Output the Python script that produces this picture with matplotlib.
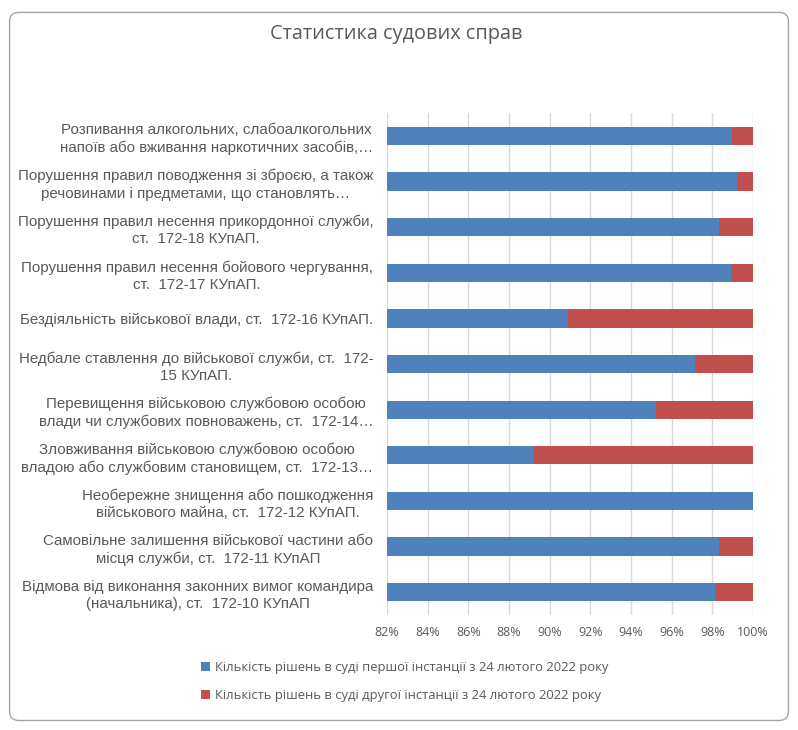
import numpy as np
import matplotlib.pyplot as plt
from matplotlib.patches import FancyBboxPatch
from matplotlib.ticker import FuncFormatter

# categories, top to bottom as shown
categories = [
    "Розпивання алкогольних, слабоалкогольних\nнапоїв або вживання наркотичних засобів,…",
    "Порушення правил поводження зі зброєю, а також\nречовинами і предметами, що становлять…",
    "Порушення правил несення прикордонної служби,\nст.  172-18 КУпАП.",
    "Порушення правил несення бойового чергування,\nст.  172-17 КУпАП.",
    "Бездіяльність військової влади, ст.  172-16 КУпАП.",
    "Недбале ставлення до військової служби, ст.  172-\n15 КУпАП.",
    "Перевищення військовою службовою особою\nвлади чи службових повноважень, ст.  172-14…",
    "Зловживання військовою службовою особою\nвладою або службовим становищем, ст.  172-13…",
    "Необережне знищення або пошкодження\nвійськового майна, ст.  172-12 КУпАП.",
    "Самовільне залишення військової частини або\nмісця служби, ст.  172-11 КУпАП",
    "Відмова від виконання законних вимог командира\n(начальника), ст.  172-10 КУпАП",
]

# share of first-instance decisions, %
first_share = [98.98, 99.23, 98.31, 98.93, 90.89, 97.15, 95.23, 89.22, 100.0, 98.31, 98.13]
second_share = [100 - v for v in first_share]

series_names = [
    "Кількість рішень в суді першої інстанції з 24 лютого 2022 року",
    "Кількість рішень в суді другої інстанції з 24 лютого 2022 року",
]

blue = "#4F81BD"
red = "#C0504D"
grey = "#595959"

fig = plt.figure(figsize=(7.98, 7.3), dpi=100)
ax = fig.add_axes([0.485, 0.1575, 0.4586, 0.6875])

y = np.arange(len(categories))[::-1]
ax.barh(y, first_share, height=0.4, color=blue, label=series_names[0], zorder=3)
ax.barh(y, second_share, left=first_share, height=0.4, color=red,
        label=series_names[1], zorder=3)

ax.set_xlim(82, 100)
ax.set_ylim(-0.5, len(categories) - 0.5)
ax.set_xticks(np.arange(82, 101, 2))
ax.xaxis.set_major_formatter(FuncFormatter(lambda v, p: f"{v:.0f}%"))
ax.grid(axis="x", color="#D9D9D9", lw=1, zorder=0)
ax.tick_params(axis="x", length=0, pad=8, labelsize=9, labelcolor=grey)
for lab in ax.get_xticklabels():
    lab.set_family(["Open Sans", "DejaVu Sans"])

ax.set_yticks(y)
ax.set_yticklabels(categories, fontsize=10.9, color=grey,
                   family=["Liberation Sans", "DejaVu Sans"],
                   multialignment="center", linespacing=1.3)
ax.tick_params(axis="y", length=0, pad=10)
for s in ax.spines.values():
    s.set_visible(False)

fig.text(0.497, 0.953, "Статистика судових справ", ha="center", va="center",
         fontsize=14.3, color=grey, family=["Open Sans", "DejaVu Sans"])

leg = fig.legend(loc="upper left", bbox_to_anchor=(0.237, 0.11), frameon=False,
                 prop={"family": ["Open Sans", "DejaVu Sans"], "size": 9.4},
                 handlelength=0.7, handleheight=0.7, handletextpad=0.4,
                 labelspacing=1.1)
for t in leg.get_texts():
    t.set_color(grey)

# chart frame
fig.patches.append(FancyBboxPatch((0.012, 0.013), 0.976, 0.97,
                                  boxstyle="round,pad=0,rounding_size=0.012",
                                  transform=fig.transFigure, fill=False,
                                  ec="#A6A6A6", lw=1))

fig.savefig("out.png", dpi=100)
